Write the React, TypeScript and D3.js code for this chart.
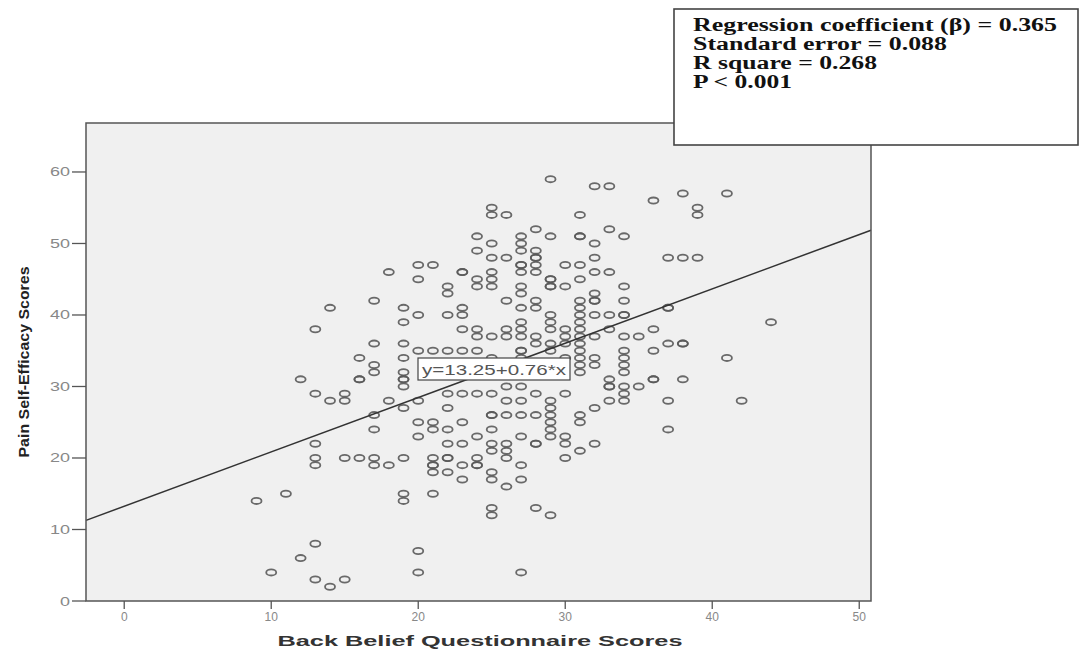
import React from "react";
import * as d3 from "d3";

// Back Belief Questionnaire scores (x) and Pain Self-Efficacy scores (y)
const bbqScores = [
  18, 29, 25, 25, 26, 31, 28, 24, 27, 29, 31, 31, 27, 25, 24, 27, 28, 25, 26, 28, 28,
  20, 21, 27, 27, 28, 30, 31, 23, 23, 25, 27, 28, 20, 24, 25, 29, 29, 31,
  32, 33, 36, 38, 41, 39, 39, 33, 34, 32, 32, 37, 38, 39, 32, 33,
  17, 14, 19, 19, 13, 17, 19, 16, 19, 17, 17, 19, 19, 19, 19, 12, 16, 16, 13, 15, 14, 15, 18, 19, 17, 17,
  24, 25, 29, 29, 30, 22, 22, 27, 27, 26, 28, 28, 27, 31, 31, 31, 20, 22, 23, 23, 29, 29, 29,
  23, 24, 24, 25, 26, 26, 27, 27, 27, 28, 28, 30, 30, 31, 31, 31, 31, 31, 31, 31, 31,
  20, 21, 22, 23, 24, 25, 27, 27, 27, 29, 29, 30, 30, 26, 27, 22, 23, 24, 25, 26, 27, 28, 30,
  20, 22, 29, 29, 29, 29, 29, 25, 25, 26, 27, 28, 31, 31, 20, 21, 21, 22,
  34, 32, 32, 32, 34, 32, 33, 34, 34, 37, 37, 44, 33, 36, 32, 34, 35, 37, 38, 38, 36, 34, 34, 34, 34,
  32, 32, 41, 33, 33, 33, 34, 34, 34, 35, 36, 36, 38, 33, 37, 42, 32, 37,
  13, 13, 13, 15, 16, 17, 17, 18, 19, 9, 11, 19, 19, 13, 12, 10, 13, 14, 15,
  20, 23, 25, 24, 22, 23, 25, 25, 26, 26, 26, 27, 28, 28, 29, 30, 30, 31, 30, 21, 21, 21, 21,
  22, 22, 22, 23, 24, 24, 24, 23, 25, 25, 26, 27, 27, 21, 25, 25, 28, 29, 20, 20, 27, 32,
];
const pseScores = [
  46, 59, 55, 54, 54, 54, 52, 51, 51, 51, 51, 51, 50, 50, 49, 49, 49, 48, 48, 48, 48,
  47, 47, 47, 47, 47, 47, 47, 46, 46, 46, 46, 46, 45, 45, 45, 45, 45, 45,
  58, 58, 56, 57, 57, 55, 54, 52, 51, 50, 48, 48, 48, 48, 46, 46,
  42, 41, 41, 39, 38, 36, 36, 34, 34, 33, 32, 32, 31, 31, 30, 31, 31, 31, 29, 29, 28, 28, 28, 27, 26, 24,
  44, 44, 44, 44, 44, 44, 43, 44, 43, 42, 42, 41, 41, 42, 41, 40, 40, 40, 40, 41, 40, 39, 38,
  38, 38, 37, 37, 38, 37, 38, 37, 39, 37, 36, 38, 37, 39, 38, 37, 36, 35, 34, 33, 32,
  35, 35, 35, 35, 35, 34, 35, 35, 34, 36, 35, 36, 34, 30, 30, 29, 29, 29, 29, 28, 28, 29, 29,
  28, 27, 28, 27, 26, 25, 24, 26, 26, 26, 26, 26, 26, 25, 25, 25, 24, 24,
  44, 43, 42, 42, 42, 40, 40, 40, 40, 41, 41, 39, 38, 38, 37, 37, 37, 36, 36, 36, 35, 35, 34, 33, 32,
  34, 33, 34, 31, 30, 30, 30, 29, 28, 30, 31, 31, 31, 28, 28, 28, 27, 24,
  22, 20, 19, 20, 20, 20, 19, 19, 20, 14, 15, 15, 14, 8, 6, 4, 3, 2, 3,
  23, 25, 24, 23, 22, 22, 22, 21, 22, 21, 20, 23, 22, 22, 23, 23, 22, 21, 20, 20, 19, 19, 18,
  20, 20, 18, 19, 20, 19, 19, 17, 18, 17, 16, 19, 17, 15, 13, 12, 13, 12, 7, 4, 4, 22,
];

const xTicks = [0, 10, 20, 30, 40, 50];
const yTicks = [0, 10, 20, 30, 40, 50, 60];
const fitIntercept = 13.25;
const fitSlope = 0.76;
const fitLabel = "y=13.25+0.76*x";
const statLines = [
  "Regression coefficient (\u03b2) = 0.365",
  "Standard error = 0.088",
  "R square = 0.268",
  "P < 0.001",
];
const statLengths = [364, 254, 184, 99];
const xTitle = "Back Belief Questionnaire Scores";
const yTitle = "Pain Self-Efficacy Scores";

export default function App() {
  const W = 1088, H = 651;
  const left = 86, right = 871, top = 123, bottom = 601;
  const x = d3.scaleLinear().domain([-2.6, 50.8]).range([left, right]);
  const y = d3.scaleLinear().domain([0, 66.85]).range([bottom, top]);
  const [x0, x1] = x.domain();
  const fit = d3.line<number>().x((d) => x(d)).y((d) => y(fitIntercept + fitSlope * d));
  const sans = "Liberation Sans, Arial, sans-serif";

  return (
    <svg width={W} height={H} style={{ position: "absolute", left: 0, top: 0, background: "#fff" }}>
      <rect x={left} y={top} width={right - left} height={bottom - top} fill="#f0f0f0" />
      <g>
        {bbqScores.map((bx, i) => (
          <ellipse
            key={i}
            cx={x(bx)}
            cy={y(pseScores[i])}
            rx={5}
            ry={3.1}
            fill="none"
            stroke="#5a5a5a"
            strokeWidth={1.8}
            opacity={0.9}
          />
        ))}
      </g>
      <path d={fit([x0, x1]) || ""} stroke="#333" strokeWidth={1.5} fill="none" />
      <rect x={left} y={top} width={right - left} height={bottom - top} fill="none" stroke="#555" strokeWidth={1.5} />
      {/* fit label */}
      <rect x={418} y={358} width={152} height={22} fill="#fff" stroke="#444" strokeWidth={1.2} />
      <text x={422} y={375} fontFamily={sans} fontSize={15} fill="#555" textLength={144} lengthAdjust="spacingAndGlyphs">
        {fitLabel}
      </text>
      {/* y axis */}
      {yTicks.map((t) => (
        <g key={"y" + t}>
          <line x1={left - 14} x2={left} y1={y(t)} y2={y(t)} stroke="#555" strokeWidth={1.3} />
          <text x={left - 16} y={y(t) + 4.5} textAnchor="end" fontFamily={sans} fontSize={12} fill="#888" textLength={t === 0 ? 10 : 20} lengthAdjust="spacingAndGlyphs">
            {t}
          </text>
        </g>
      ))}
      {/* x axis */}
      {xTicks.map((t) => (
        <g key={"x" + t}>
          <line x1={x(t)} x2={x(t)} y1={bottom} y2={bottom + 8} stroke="#555" strokeWidth={1.3} />
          <text x={x(t)} y={621} textAnchor="middle" fontFamily={sans} fontSize={12} fill="#888">
            {t}
          </text>
        </g>
      ))}
      <text x={480} y={646} textAnchor="middle" fontFamily={sans} fontSize={15} fontWeight="bold" fill="#333" textLength={405} lengthAdjust="spacingAndGlyphs">
        {xTitle}
      </text>
      <text transform={`translate(29, ${362}) rotate(-90)`} textAnchor="middle" fontFamily={sans} fontSize={15} fontWeight="bold" fill="#222" textLength={191} lengthAdjust="spacingAndGlyphs">
        {yTitle}
      </text>
      {/* stats box */}
      <rect x={674} y={9} width={404} height={136} fill="#fff" stroke="#444" strokeWidth={1.6} />
      {statLines.map((s, i) => (
        <text key={i} x={693} y={30.5 + i * 19} fontFamily="Liberation Serif, Times New Roman, serif" fontSize={18} fontWeight="bold" fill="#111" textLength={statLengths[i]} lengthAdjust="spacingAndGlyphs">
          {s}
        </text>
      ))}
    </svg>
  );
}
